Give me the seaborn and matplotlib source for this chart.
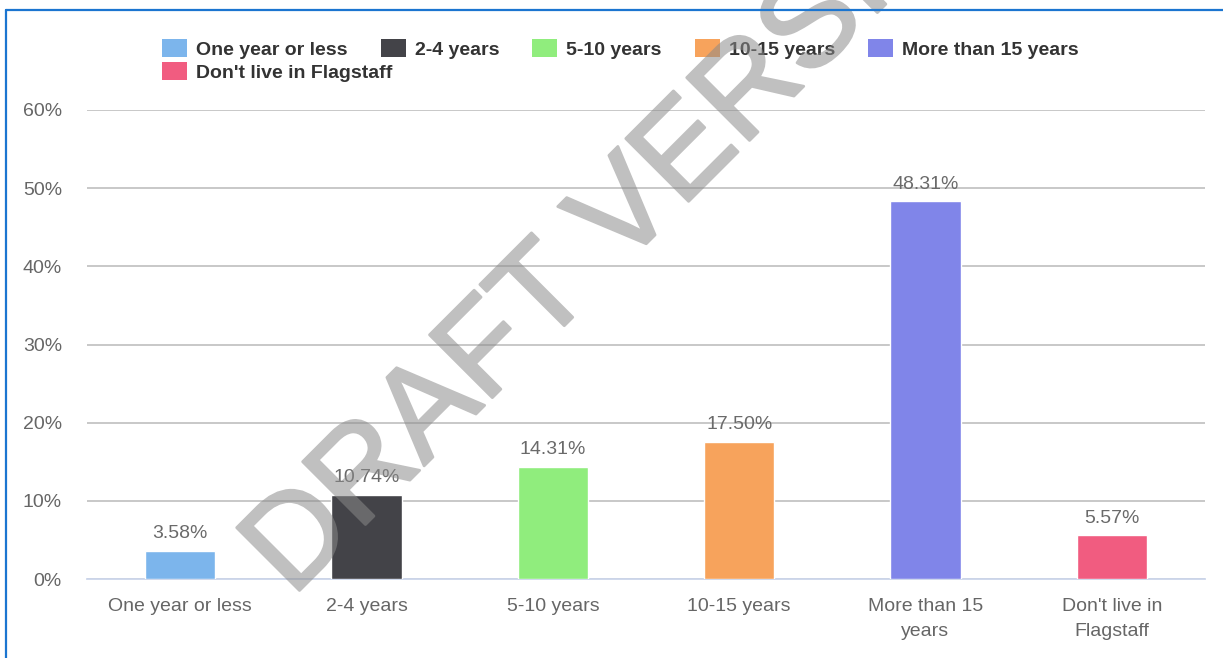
import matplotlib
matplotlib.use("Agg")
import matplotlib.pyplot as plt
import matplotlib.patheffects as pe
from matplotlib.lines import Line2D
from matplotlib.patches import Patch
from matplotlib.ticker import FixedLocator, FuncFormatter
import seaborn as sns
import pandas as pd

# Survey: how long respondents have lived in Flagstaff
categories = ["One year or less", "2-4 years", "5-10 years", "10-15 years",
              "More than 15 years", "Don't live in Flagstaff"]
tick_labels = ["One year or less", "2-4 years", "5-10 years", "10-15 years",
               "More than 15\nyears", "Don't live in\nFlagstaff"]
shares = [3.58, 10.74, 14.31, 17.50, 48.31, 5.57]
colors = ["#7cb5ec", "#434348", "#90ed7d", "#f7a35c", "#8085e9", "#f15c80"]
y_ticks = [0, 10, 20, 30, 40, 50, 60]

sns.set_style("white")
plt.rcParams["font.family"] = ["Liberation Sans", "DejaVu Sans"]

W, H = 1223, 658
fig = plt.figure(figsize=(W / 100, H / 100), dpi=100)
ax = fig.add_axes([87 / W, 1 - 579 / H, (1205 - 87) / W, (579 - 110) / H])

df = pd.DataFrame({"category": categories, "share": shares})
sns.barplot(data=df, x="category", y="share", hue="category",
            palette=colors, saturation=1, legend=False, width=0.376,
            edgecolor="white", linewidth=1, ax=ax, zorder=3)

ax.set_xlim(-0.5, len(categories) - 0.5)
ax.set_ylim(0, 60)
ax.set_xlabel("")
ax.set_ylabel("")

# y axis: percentage gridlines
ax.yaxis.set_major_locator(FixedLocator(y_ticks))
ax.yaxis.set_major_formatter(FuncFormatter(lambda v, _: f"{v:.0f}%"))
ax.grid(axis="y", color="#c4c4c4", linewidth=1.3, zorder=0)
ax.set_axisbelow(True)
ax.tick_params(axis="y", length=0, pad=18, labelsize=14, labelcolor="#666666")

# x axis: labels centred on bars, tick marks between categories
ax.set_xticks(range(len(categories)))
ax.set_xticklabels(tick_labels, linespacing=1.55)
ax.set_xticks([i - 0.5 for i in range(len(categories) + 1)], minor=True)
ax.tick_params(axis="x", which="major", length=0, pad=14, labelsize=14,
               labelcolor="#666666")
ax.tick_params(axis="x", which="minor", length=10.8, width=1.2,
               color="#ccd6eb", direction="out")

for side in ["top", "right", "left"]:
    ax.spines[side].set_visible(False)
ax.spines["bottom"].set_color("#ccd6eb")
ax.spines["bottom"].set_linewidth(1.3)

# value labels
for i, v in enumerate(shares):
    ax.annotate(f"{v:.2f}%", xy=(i, v), xytext=(0, 12.5),
                textcoords="offset points", ha="center", va="center",
                fontsize=14, color="#6a6a6a", zorder=5)

# legend: five entries on the first row, one on the second
handles = [Patch(facecolor=c, edgecolor="none") for c in colors]
common = dict(frameon=False, fontsize=14, handlelength=1.29, handleheight=1.03,
              handletextpad=0.46, columnspacing=1.7, borderpad=0,
              borderaxespad=0, loc="center left")
leg1 = fig.legend(handles[:5], categories[:5], ncol=5,
                  bbox_to_anchor=(162 / W, 1 - 49 / H), **common)
leg2 = fig.legend(handles[5:], categories[5:], ncol=1,
                  bbox_to_anchor=(162 / W, 1 - 72 / H), **common)
for leg in (leg1, leg2):
    for t in leg.get_texts():
        t.set_fontweight("bold")
        t.set_color("#333333")


def fade(img, dpi, opacity=0.54):
    """Render the watermark opaque, then make it uniformly translucent."""
    out = img.copy()
    out[..., 3] *= opacity
    return out, 0, 0


# watermark: slightly thickened glyph outlines, then faded as a whole
mark_color = "#8a8a8a"
mark = fig.text(292 / W, 1 - 598 / H, "DRAFT VERSION", rotation=45,
                rotation_mode="anchor", ha="left", va="baseline", fontsize=93,
                color=mark_color, zorder=10,
                path_effects=[pe.withStroke(linewidth=2, foreground=mark_color)])
mark.set_agg_filter(fade)

# frame lines along the top and left edges
fig.add_artist(Line2D([6 / W, 6 / W], [0, 1 - 10 / H], transform=fig.transFigure,
                      color="#1b75d0", linewidth=1.6, zorder=11))
fig.add_artist(Line2D([6 / W, 1], [1 - 10 / H, 1 - 10 / H], transform=fig.transFigure,
                      color="#1b75d0", linewidth=1.6, zorder=11))

fig.savefig("out.png", dpi=100, facecolor="white")
